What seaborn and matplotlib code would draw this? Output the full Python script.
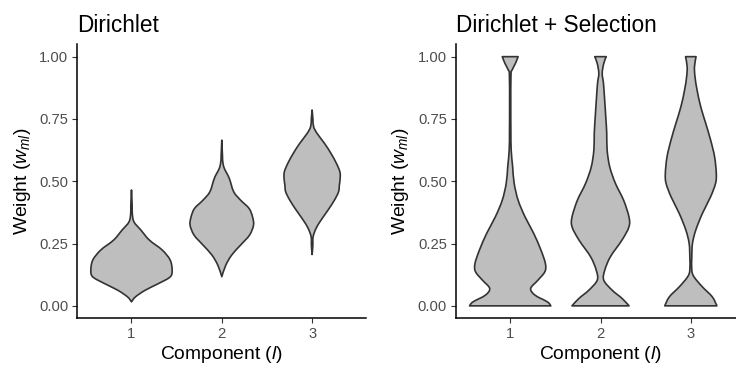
import matplotlib
matplotlib.use("Agg")
import matplotlib.pyplot as plt
from matplotlib.path import Path
from matplotlib.patches import PathPatch
import seaborn as sns
import numpy as np

# ---------------- data ----------------
categories = ["1", "2", "3"]
panel_titles = ["Dirichlet", "Dirichlet + Selection"]

# Panel 1: Dirichlet — weight levels and relative density (violin half-width)
dir_c1_weight = [0.465, 0.40, 0.371, 0.337, 0.304, 0.264, 0.224, 0.184, 0.143, 0.116, 0.090, 0.063, 0.036, 0.016]
dir_c1_density = [0.0, 0.7, 0.8, 2.5, 9.5, 18, 31, 39, 41, 39, 27.5, 14, 4, 0.0]

dir_c2_weight = [0.665, 0.60, 0.578, 0.552, 0.512, 0.458, 0.424, 0.391, 0.357, 0.324, 0.284, 0.244, 0.204, 0.163, 0.117]
dir_c2_density = [0.0, 0.7, 1.0, 2.5, 7.5, 12, 19, 27.5, 31, 32, 28, 19, 10, 4, 0.0]

dir_c3_weight = [0.786, 0.75, 0.719, 0.692, 0.652, 0.612, 0.572, 0.538, 0.512, 0.485, 0.458, 0.424, 0.384, 0.344, 0.311, 0.277, 0.24, 0.206]
dir_c3_density = [0.0, 0.8, 1.5, 5, 12.5, 19, 24.5, 28, 28.3, 27.5, 26.7, 22.5, 16, 9, 4, 1, 0.7, 0.0]

# Panel 2: Dirichlet + Selection
sel_c1_weight = [1.0, 0.973, 0.947, 0.927, 0.80, 0.70, 0.625, 0.558, 0.492, 0.424, 0.357, 0.291, 0.224, 0.170, 0.137, 0.103, 0.070, 0.043, 0.016, 0.0]
sel_c1_density = [8, 5.3, 2, 0.8, 0.6, 0.7, 1, 2.5, 4, 8, 15, 23.7, 31, 35.5, 35, 28, 20.7, 25, 37.5, 41]

sel_c2_weight = [1.0, 0.973, 0.933, 0.893, 0.826, 0.759, 0.692, 0.625, 0.558, 0.492, 0.424, 0.357, 0.317, 0.264, 0.197, 0.143, 0.103, 0.063, 0.030, 0.0]
sel_c2_density = [5.8, 3.3, 1.7, 3, 4.2, 5.3, 6.3, 6.7, 9.3, 15, 23.3, 28.7, 28.7, 21.7, 10, 4.3, 3.3, 11.7, 21.7, 28.8]

sel_c3_weight = [1.0, 0.960, 0.920, 0.866, 0.799, 0.733, 0.665, 0.598, 0.532, 0.492, 0.438, 0.371, 0.304, 0.251, 0.197, 0.143, 0.116, 0.076, 0.036, 0.0]
sel_c3_density = [5.3, 3.7, 4.2, 6.3, 10, 15, 20, 24, 25.7, 25, 20, 11.7, 5, 1.7, 1, 1, 3.3, 11.7, 21.7, 26.3]

yticks = [0.00, 0.25, 0.50, 0.75, 1.00]
ytick_labels = ["0.00", "0.25", "0.50", "0.75", "1.00"]

panels = [
    [(dir_c1_weight, dir_c1_density), (dir_c2_weight, dir_c2_density), (dir_c3_weight, dir_c3_density)],
    [(sel_c1_weight, sel_c1_density), (sel_c2_weight, sel_c2_density), (sel_c3_weight, sel_c3_density)],
]


def smooth_side(pts):
    """Catmull-Rom rendered as cubic Bezier segments through the given points."""
    n = len(pts)
    verts, codes = [], []
    for k in range(n - 1):
        p0 = pts[k - 1] if k > 0 else pts[k]
        p1 = pts[k]
        p2 = pts[k + 1]
        p3 = pts[k + 2] if k + 2 < n else pts[k + 1]
        c1 = p1 + (p2 - p0) / 6.0
        c2 = p2 - (p3 - p1) / 6.0
        verts += [tuple(c1), tuple(c2), tuple(p2)]
        codes += [Path.CURVE4] * 3
    return verts, codes


def violin_path(pos, wts, hw):
    left = np.column_stack([pos - hw, wts])
    right = np.column_stack([pos + hw, wts])[::-1]
    verts = [tuple(left[0])]
    codes = [Path.MOVETO]
    v, c = smooth_side(left)
    verts += v; codes += c
    verts.append(tuple(right[0])); codes.append(Path.LINETO)
    v, c = smooth_side(right)
    verts += v; codes += c
    verts.append(tuple(left[0])); codes.append(Path.CLOSEPOLY)
    return Path(verts, codes)


# ---------------- style ----------------
sns.set_theme(style="ticks")
plt.rcParams["font.family"] = ["Liberation Sans", "DejaVu Sans"]
plt.rcParams["mathtext.fontset"] = "custom"
plt.rcParams["mathtext.rm"] = "Liberation Sans"
plt.rcParams["mathtext.it"] = "Liberation Sans:italic"

fig = plt.figure(figsize=(7.36, 3.67), dpi=100)
W, H = 736, 367
ax_bottom = (H - 318.3) / H
ax_height = (318.3 - 44.2) / H
ax_width = 289 / W
lefts = [77.3 / W, 456 / W]

all_dens = [d for p in panels for (_, dens) in p for d in dens]
dmax = max(all_dens)
max_half = 0.45

for i, (left, title, violins) in enumerate(zip(lefts, panel_titles, panels)):
    ax = fig.add_axes([left, ax_bottom, ax_width, ax_height])
    for j, (wts, dens) in enumerate(violins):
        pos = j + 1
        wts = np.asarray(wts, float)
        hw = np.asarray(dens, float) / dmax * max_half
        patch = PathPatch(violin_path(pos, wts, hw), facecolor="#BEBEBE",
                          edgecolor="#333333", linewidth=1.2,
                          joinstyle="round", zorder=2)
        ax.add_patch(patch)
    ax.set_xlim(0.4, 3.6)
    ax.set_ylim(-0.05, 1.05)
    ax.set_xticks([1, 2, 3])
    ax.set_xticklabels(categories)
    ax.set_yticks(yticks)
    ax.set_yticklabels(ytick_labels)
    sns.despine(ax=ax)
    for s in ["left", "bottom"]:
        ax.spines[s].set_linewidth(1.1)
        ax.spines[s].set_color("black")
    ax.tick_params(axis="both", length=3.5, width=0.8, color="#333333",
                   labelsize=10.6, labelcolor="#4D4D4D", pad=3.0)
    ax.set_xlabel(r"Component ($l$)", fontsize=13.9, color="black")
    ax.set_ylabel(r"Weight ($w_{ml}$)", fontsize=13.9, color="black")
    ax.xaxis.set_label_coords(0.5, -0.093)
    ax.yaxis.set_label_coords(-0.155, 0.5)
    ax.set_title(title, loc="left", fontsize=16.3, color="black", pad=9)
    ax.grid(False)
    ax.set_facecolor("white")

fig.savefig("out.png", dpi=100, facecolor="white")
